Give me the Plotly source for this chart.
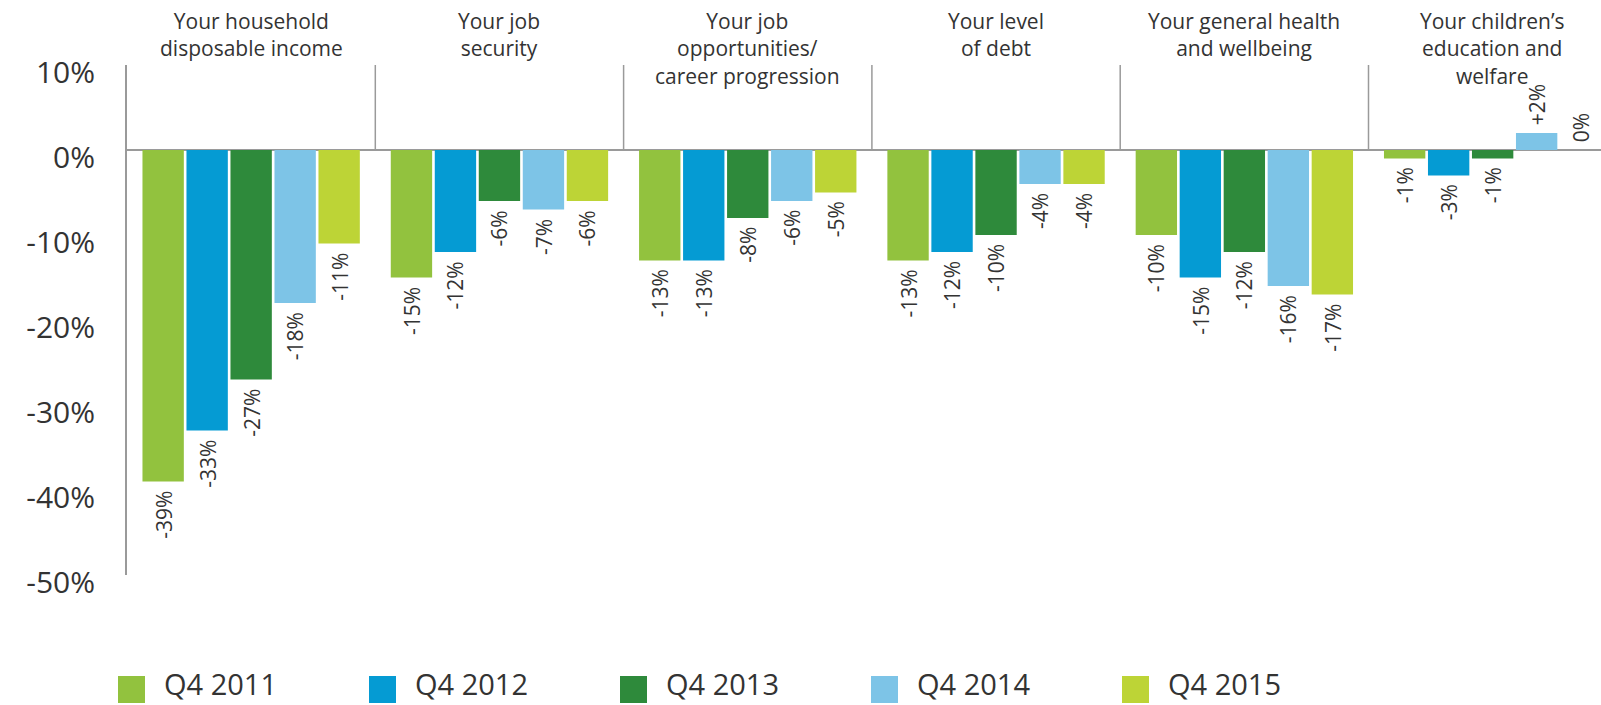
import plotly.graph_objects as go

# Survey categories (header lines) and quarterly series
categories = [
    ["Your household", "disposable income"],
    ["Your job", "security"],
    ["Your job", "opportunities/", "career progression"],
    ["Your level", "of debt"],
    ["Your general health", "and wellbeing"],
    ["Your children\u2019s", "education and", "welfare"],
]
series_names = ["Q4 2011", "Q4 2012", "Q4 2013", "Q4 2014", "Q4 2015"]
q4_2011 = [-39, -15, -13, -13, -10, -1]
q4_2012 = [-33, -12, -13, -12, -15, -3]
q4_2013 = [-27, -6, -8, -10, -12, -1]
q4_2014 = [-18, -7, -6, -4, -16, 2]
q4_2015 = [-11, -6, -5, -4, -17, 0]
series_values = [q4_2011, q4_2012, q4_2013, q4_2014, q4_2015]
series_colors = ["#92C23E", "#059BD3", "#2E8A3B", "#7DC4E7", "#BDD436"]

tick_values = [10, 0, -10, -20, -30, -40, -50]
tick_labels = ["10%", "0%", "-10%", "-20%", "-30%", "-40%", "-50%"]

# Page geometry (pixels)
W, H = 1601, 705
ML, MT, MB = 127, 65, 130
PLOT_W = W - ML
PLOT_H = H - MT - MB
GROUP_PX = 248.3
BARGAP = 0.114
BARGROUPGAP = 0.06
TEXT = "#333333"
AXIS = "#9a9a9a"

n_groups = len(categories)
n_series = len(series_names)
x_pos = list(range(n_groups))
x_max = -0.5 + PLOT_W / GROUP_PX
slot = (1 - BARGAP) / n_series


def fmt(v):
    if v > 0:
        return f"+{v}%"
    return f"{v}%"


def py_to_paper(py):
    return (H - MB - py) / PLOT_H


def px_to_paper(px):
    return (px - ML) / PLOT_W


fig = go.Figure()
for name, vals, col in zip(series_names, series_values, series_colors):
    fig.add_trace(go.Bar(
        x=x_pos, y=vals, name=name, marker=dict(color=col, line=dict(width=0)),
        showlegend=False, hoverinfo="y+name",
    ))

annotations = []
# Value labels, rotated, just past each bar's end
for j, vals in enumerate(series_values):
    for g, v in enumerate(vals):
        xc = g + (j - (n_series - 1) / 2) * slot
        neg = v < 0
        annotations.append(dict(
            x=xc, y=v, xref="x", yref="y", text=fmt(v), showarrow=False,
            textangle=-90, xanchor="center",
            yanchor="top" if neg else "bottom",
            yshift=-7 if neg else 6,
            font=dict(family="Open Sans", size=21, color=TEXT),
        ))

# Category headers above each group
for g, lines in enumerate(categories):
    annotations.append(dict(
        x=g, y=py_to_paper(5), xref="x", yref="paper",
        text="<br>".join(lines), showarrow=False,
        xanchor="center", yanchor="top", align="center",
        font=dict(family="Open Sans", size=21, color=TEXT),
    ))

shapes = []
# Vertical separators between categories above the zero line
for g in range(n_groups - 1):
    shapes.append(dict(
        type="line", xref="x", yref="y", x0=g + 0.5, x1=g + 0.5, y0=0, y1=10,
        line=dict(color=AXIS, width=1.5),
    ))

# Legend: square swatches with labels
LEG_X0, LEG_PITCH, SW = 118, 251, 27
LEG_Y0 = 676
for i, (name, col) in enumerate(zip(series_names, series_colors)):
    x0 = LEG_X0 + i * LEG_PITCH
    shapes.append(dict(
        type="rect", xref="paper", yref="paper",
        x0=px_to_paper(x0), x1=px_to_paper(x0 + SW),
        y0=py_to_paper(LEG_Y0 + SW), y1=py_to_paper(LEG_Y0),
        fillcolor=col, line=dict(width=0),
    ))
    annotations.append(dict(
        x=px_to_paper(x0 + 44), y=py_to_paper(683),
        xref="paper", yref="paper", text=name, showarrow=False,
        xanchor="left", yanchor="middle",
        font=dict(family="Open Sans", size=29, color=TEXT),
    ))

fig.update_layout(
    width=W, height=H,
    margin=dict(l=ML, r=0, t=MT, b=MB, pad=0),
    paper_bgcolor="white", plot_bgcolor="white",
    barmode="group", bargap=BARGAP, bargroupgap=BARGROUPGAP,
    annotations=annotations, shapes=shapes,
    showlegend=False,
    xaxis=dict(range=[-0.5, x_max], showticklabels=False, showgrid=False,
               zeroline=False, showline=False, ticks=""),
    yaxis=dict(range=[-50, 10], tickvals=tick_values, ticktext=tick_labels,
               showgrid=False, zeroline=True, zerolinecolor=AXIS, zerolinewidth=2,
               showline=True, linecolor=AXIS, linewidth=2, ticks="",
               ticklabelstandoff=24, ticklabelshift=7,
               tickfont=dict(family="Open Sans", size=30, color=TEXT)),
)

fig.write_html("out.html")
